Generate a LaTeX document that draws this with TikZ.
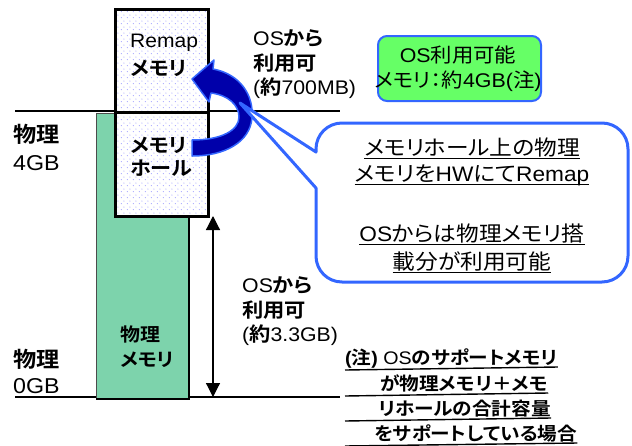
\documentclass[tikz,border=0pt]{standalone}
\usepackage{fontspec}
\setmainfont{Liberation Sans}[FakeStretch=1.08]
\newfontfamily\jpr{Noto Sans CJK JP}[FakeStretch=1.08,RawFeature=+palt]
\newfontfamily\jpb{Noto Sans CJK JP Bold}[FakeStretch=1.08,RawFeature=+palt]
\newcommand\JR[1]{{\jpr #1}}
\newcommand\JB[1]{{\jpb #1}}
\usetikzlibrary{arrows.meta,patterns.meta}
\definecolor{bluel}{RGB}{51,102,255}
\definecolor{blued}{RGB}{0,0,170}
\definecolor{mint}{RGB}{125,211,172}
\definecolor{okgreen}{RGB}{102,255,102}
\definecolor{dotc}{RGB}{150,150,255}
\tikzdeclarepattern{name=memdots,type=uncolored,bounding box={(0pt,0pt) and (6pt,6pt)},tile size={(6pt,6pt)},code={\fill (1.5pt,1.5pt) circle (0.6pt); \fill (4.5pt,4.5pt) circle (0.6pt);}}
\begin{document}
\begin{tikzpicture}[x=1pt,y=-1pt,
  txt/.style={inner sep=0pt, font=\fontsize{#1}{#1}\selectfont},
  membox/.style={draw=black, line width=3pt, preaction={fill=white}, pattern=memdots, pattern color=dotc, minimum width=93pt, inner sep=0pt, anchor=north west},
  rule/.style={line width=1.5pt},
  uline/.style={line width=1.4pt}]
\useasboundingbox (0,0) rectangle (632,445);
% base lines
\coordinate (t0) at (15,111); \coordinate (t1) at (340,111);
\coordinate (b0) at (15,397); \coordinate (b1) at (340,397);
\draw[rule] (t0) -- (t1);
\draw[rule] (b0) -- (b1);
% physical memory bar
\node[draw=black!70, line width=1pt, fill=mint, minimum width=92pt, minimum height=285pt, inner sep=0pt, anchor=north west] (bar) at (96,113) {};
\draw[line width=2.5pt] (bar.north east) -- (bar.south east) -- (bar.south west);
% memory boxes
\node[membox, minimum height=103pt] (remap) at (114,8) {};
\node[membox, minimum height=104pt] (hole) at (114,111) {};
% texts in boxes
\node[txt=19.5, anchor=base west] (rm1) at (130,47) {Remap};
\node[txt=19.5, anchor=base west] (rm2) at (130,75.5) {\JB{メモリ}};
\node[txt=19.5, anchor=base west] (ho1) at (130,152.5) {\JB{メモリ}};
\node[txt=19.5, anchor=base west] (ho2) at (130,175.5) {\JB{ホール}};
\node[txt=18.5, anchor=base west] (pm1) at (120,341) {\JB{物理}};
\node[txt=18.5, anchor=base west] (pm2) at (120,366) {\JB{メモリ}};
% left labels
\node[txt=21.5, anchor=base west] (g4a) at (13,142) {\JB{物理}};
\node[txt=21.5, anchor=base west] (g4b) at (13,170) {4GB};
\node[txt=21.5, anchor=base west] (g0a) at (13,367) {\JB{物理}};
\node[txt=21.5, anchor=base west] (g0b) at (13,393) {0GB};
% double arrow
\coordinate (ar0) at (213,216); \coordinate (ar1) at (213,397);
\draw[line width=1.2pt, {Triangle[width=14pt,length=14pt]}-{Triangle[width=14pt,length=14pt]}] (ar0) -- (ar1);
% OS labels
\node[txt=19.7, anchor=base west] (u1) at (253,45) {OS\JB{から}};
\node[txt=19.7, anchor=base west] (u2) at (253,70) {\JB{利用可}};
\node[txt=19.7, anchor=base west] (u3) at (253,94) {(\JB{約}700MB)};
\node[txt=19.7, anchor=base west] (v1) at (242,292) {OS\JB{から}};
\node[txt=19.7, anchor=base west] (v2) at (242,317) {\JB{利用可}};
\node[txt=19.7, anchor=base west] (v3) at (242,341) {(\JB{約}3.3GB)};
% curved arrow
\filldraw[fill=blued, draw=bluel, line width=1.5pt, line join=round]
  (213,69) .. controls (240,74) and (254,95) .. (252,118)
  .. controls (250,142) and (225,156) .. (192,156) -- (192,140)
  .. controls (222,140) and (239,130) .. (239,117)
  .. controls (239,105) and (228,95) .. (211,93)
  -- (209,102) -- (192,79) -- (214,60) -- cycle;
% callout
\filldraw[fill=white, draw=bluel, line width=3pt, line join=round]
  (240,103) -- (316,188) -- (316,256) .. controls (316,270.4) and (327.6,282) .. (342,282)
  -- (602,282) .. controls (616.4,282) and (628,270.4) .. (628,256)
  -- (628,149) .. controls (628,134.6) and (616.4,123) .. (602,123)
  -- (342,123) .. controls (327.6,123) and (316,134.6) .. (316,149)
  -- (316,152) -- cycle;
\node[txt=21, anchor=base] (c1) at (472,155.5) {\JR{メモリホール上の物理}};
\node[txt=21, anchor=base] (c2) at (472,181.5) {\JR{メモリを}HW\JR{にて}Remap};
\node[txt=21, anchor=base] (c3) at (472,241.5) {OS\JR{からは物理メモリ搭}};
\node[txt=21, anchor=base] (c4) at (472,269.5) {\JR{載分が利用可能}};
\foreach \n in {c1,c2,c3,c4}{
  \draw[uline] ([yshift=-3pt]\n.base west) -- ([yshift=-3pt]\n.base east);
}
% OS usable box
\node[draw=bluel, line width=2pt, fill=okgreen, rounded corners=9pt, minimum width=163pt, minimum height=65pt, inner sep=0pt, anchor=north west] (osbox) at (377,35) {};
\node[txt=19.8, anchor=base] (o1) at (458,62.5) {OS\JR{利用可能}};
\node[txt=19.8, anchor=base] (o2) at (458,87.5) {\JR{メモリ：約}4GB(\JR{注})};
% note
\node[txt=18.2, anchor=base west] (n1) at (345,364) {{\bfseries(}\JB{注}{\bfseries)} OS\JB{のサポートメモリ}};
\node[txt=18.2, anchor=base west] (n2) at (380,390) {\JB{が物理メモリ＋メモ}};
\node[txt=18.2, anchor=base west] (n3) at (378,415) {\JB{リホールの合計容量}};
\node[txt=18.2, anchor=base west] (n4) at (374,440) {\JB{をサポートしている場合}};
\foreach \n in {n1,n2,n3,n4}{
  \coordinate (\n s) at ([yshift=-3pt]n1.base west |- \n.base);
  \draw[uline] ([yshift=-3pt]\n s) -- ([yshift=-3pt]\n.base east);
}
\end{tikzpicture}
\end{document}
